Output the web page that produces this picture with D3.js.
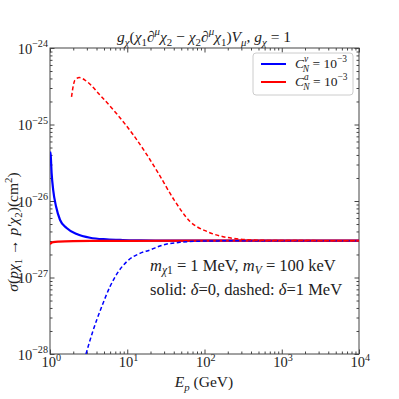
<!DOCTYPE html>
<html>
<head>
<meta charset="utf-8">
<script src="https://cdn.jsdelivr.net/npm/d3@7"></script>
<style>
  body { margin: 0; background: #fff; }
  svg text { font-family: "Liberation Serif", "DejaVu Serif", serif; fill: #222; }
</style>
</head>
<body>
<div id="chart"></div>
<script>
/* DATA */
const xMajor = [1, 10, 100, 1000, 10000];
const yMajor = [1e-28, 1e-27, 1e-26, 1e-25, 1e-24];
const xTickExp = ["0", "1", "2", "3", "4"];
const yTickExp = ["\u221228", "\u221227", "\u221226", "\u221225", "\u221224"];

// C_N^v, delta = 0 (blue solid)
const blueSolidE = [1.0, 1.02, 1.05, 1.1, 1.2, 1.35, 1.64, 2.22, 3.3, 5.4, 8.8, 15, 30, 100, 1000, 10000];
const blueSolidS = [4.4e-26, 4.0e-26, 2.3e-26, 1.39e-26, 8.4e-27, 5.65e-27, 4.43e-27, 3.71e-27, 3.31e-27, 3.15e-27, 3.09e-27, 3.06e-27, 3.04e-27, 3.03e-27, 3.03e-27, 3.03e-27];
// C_N^v, delta = 1 MeV (blue dashed)
const blueDashE = [2.92, 3.63, 4.67, 5.98, 7.66, 9.84, 14.6, 19.7, 29, 48, 107, 300, 10000];
const blueDashS = [1e-28, 2.06e-28, 4.15e-28, 7.6e-28, 1.19e-27, 1.61e-27, 2.07e-27, 2.29e-27, 2.66e-27, 2.88e-27, 3.0e-27, 3.02e-27, 3.03e-27];
// C_N^a, delta = 0 (red solid)
const redSolidE = [1.0, 1.03, 1.1, 1.3, 2, 5, 10, 100, 10000];
const redSolidS = [2.72e-27, 2.82e-27, 2.9e-27, 2.95e-27, 2.99e-27, 3.01e-27, 3.02e-27, 3.03e-27, 3.03e-27];
// C_N^a, delta = 1 MeV (red dashed)
const redDashE = [1.9, 2.0, 2.1, 2.4, 3.0, 4.4, 7.3, 12, 18, 25, 40, 65, 107, 174, 288, 474, 1000, 10000];
const redDashS = [2.3e-25, 3.2e-25, 3.8e-25, 4.1e-25, 3.65e-25, 2.45e-25, 1.38e-25, 7.3e-26, 4.0e-26, 2.35e-26, 1.05e-26, 5.4e-27, 4.0e-27, 3.42e-27, 3.18e-27, 3.08e-27, 3.04e-27, 3.03e-27];

const series = [
  { E: blueSolidE, S: blueSolidS, color: "#0000ff", dash: null },
  { E: redSolidE, S: redSolidS, color: "#ff0000", dash: null },
  { E: blueDashE, S: blueDashS, color: "#0000ff", dash: "4,2.5" },
  { E: redDashE, S: redDashS, color: "#ff0000", dash: "4,2.5" }
];

/* LAYOUT */
const width = 399, height = 399,
  margin = { top: 48, right: 40, bottom: 45, left: 50 };

const svg = d3.select("#chart").append("svg")
  .attr("width", width).attr("height", height);

const xScale = d3.scaleLog().domain([1, 1e4]).range([margin.left, width - margin.right]);
const yScale = d3.scaleLog().domain([1e-28, 1e-24]).range([height - margin.bottom, margin.top]);

// minor ticks 2..9 per decade
function minors(lo, hi) {
  const out = [];
  for (let e = lo; e < hi; e++) for (let k = 2; k <= 9; k++) out.push(k * Math.pow(10, e));
  return out;
}
const xMinor = minors(0, 4);
const yMinor = minors(-28, -24);

// math text helper: parts = [{t, i (italic), s ('sub'|'sup')}]
function mathText(sel, parts, size, subShift = 0.28) {
  let shift = 0;
  parts.forEach(p => {
    const target = p.s === "sub" ? size * subShift : p.s === "sup" ? -size * 0.42 : 0;
    const ts = sel.append("tspan")
      .attr("dy", target - shift)
      .attr("font-size", p.s ? size * 0.7 : size)
      .attr("font-style", p.i ? "italic" : "normal")
      .text(p.t);
    if (p.dx) ts.attr("dx", p.dx);
    shift = target;
  });
}

/* AXES */
const axisColor = "#444";
function drawAxis(axisFn, transform, ticks, size) {
  const g = svg.append("g")
    .attr("transform", transform)
    .call(axisFn.tickValues(ticks).tickSize(-size).tickSizeOuter(0).tickFormat(""));
  g.select(".domain").remove();
  g.selectAll("line").attr("stroke", axisColor).attr("stroke-width", 1);
  return g;
}
const bottomY = height - margin.bottom, rightX = width - margin.right;
const gx = drawAxis(d3.axisBottom(xScale), `translate(0,${bottomY})`, xMajor, 4.5);
drawAxis(d3.axisBottom(xScale), `translate(0,${bottomY})`, xMinor, 2.5);
drawAxis(d3.axisTop(xScale), `translate(0,${margin.top})`, xMajor, 4.5);
drawAxis(d3.axisTop(xScale), `translate(0,${margin.top})`, xMinor, 2.5);
const gy = drawAxis(d3.axisLeft(yScale), `translate(${margin.left},0)`, yMajor, 4.5);
drawAxis(d3.axisLeft(yScale), `translate(${margin.left},0)`, yMinor, 2.5);
drawAxis(d3.axisRight(yScale), `translate(${rightX},0)`, yMajor, 4.5);
drawAxis(d3.axisRight(yScale), `translate(${rightX},0)`, yMinor, 2.5);

svg.append("rect")
  .attr("x", margin.left).attr("y", margin.top)
  .attr("width", rightX - margin.left).attr("height", bottomY - margin.top)
  .attr("fill", "none").attr("stroke", axisColor).attr("stroke-width", 1);

// tick labels
gx.selectAll(".tick").each(function(d, i) {
  const t = d3.select(this).append("text")
    .attr("x", -9).attr("y", 13).attr("text-anchor", "start").attr("fill", "#222");
  mathText(t, [{ t: "10" }, { t: xTickExp[i], s: "sup" }], 14.5);
});
gy.selectAll(".tick").each(function(d, i) {
  const t = d3.select(this).append("text")
    .attr("x", -2).attr("y", 5).attr("text-anchor", "end").attr("fill", "#222");
  mathText(t, [{ t: "10" }, { t: yTickExp[i], s: "sup" }], 14.5);
});

/* CURVES */
svg.append("clipPath").attr("id", "plot-clip")
  .append("rect").attr("x", margin.left).attr("y", margin.top)
  .attr("width", rightX - margin.left).attr("height", bottomY - margin.top);

const line = d3.line()
  .x(d => xScale(d[0]))
  .y(d => yScale(d[1]))
  .curve(d3.curveMonotoneX);

svg.append("g").attr("clip-path", "url(#plot-clip)")
  .selectAll("path.curve")
  .data(series)
  .join("path")
  .attr("class", "curve")
  .attr("fill", "none")
  .attr("stroke", d => d.color)
  .attr("stroke-width", d => d.dash ? 1.5 : 2.2)
  .attr("stroke-dasharray", d => d.dash)
  .attr("d", d => line(d.E.map((e, i) => [e, d.S[i]])));

/* LEGEND */
const lg = svg.append("g").attr("transform", "translate(253,53)");
lg.append("rect").attr("width", 100).attr("height", 42).attr("rx", 3)
  .attr("fill", "#fff").attr("fill-opacity", 0.8).attr("stroke", "#ccc");
[{ c: "#0000ff", sup: "v" }, { c: "#ff0000", sup: "a" }].forEach((e, i) => {
  const yy = 11 + i * 18;
  lg.append("line").attr("x1", 8).attr("x2", 33).attr("y1", yy).attr("y2", yy)
    .attr("stroke", e.c).attr("stroke-width", 2);
  const t = lg.append("text").attr("x", 42).attr("y", yy + 4);
  mathText(t, [
    { t: "C", i: true }, { t: e.sup, i: true, s: "sup" },
    { t: "N", i: true, s: "sub", dx: -5.5 }, { t: " = 10" }, { t: "\u22123", s: "sup" }
  ], 13.5);
});

/* TEXTS */
const title = svg.append("text").attr("x", 204).attr("y", 42).attr("text-anchor", "middle");
mathText(title, [
  { t: "g", i: true }, { t: "\u03c7", i: true, s: "sub" },
  { t: "(" }, { t: "\u03c7", i: true }, { t: "1", s: "sub" },
  { t: "\u2202" }, { t: "\u03bc", i: true, s: "sup" },
  { t: "\u03c7", i: true }, { t: "2", s: "sub" },
  { t: " \u2212 " }, { t: "\u03c7", i: true }, { t: "2", s: "sub" },
  { t: "\u2202" }, { t: "\u03bc", i: true, s: "sup" },
  { t: "\u03c7", i: true }, { t: "1", s: "sub" },
  { t: ")" }, { t: "V", i: true }, { t: "\u03bc", i: true, s: "sub" },
  { t: ", " }, { t: "g", i: true }, { t: "\u03c7", i: true, s: "sub" }, { t: " = 1" }
], 15.5);

const xl = svg.append("text").attr("x", 204).attr("y", 387).attr("text-anchor", "middle");
mathText(xl, [{ t: "E", i: true }, { t: "p", i: true, s: "sub" }, { t: " (GeV)" }], 15.5);

const yl = svg.append("text").attr("transform", "translate(18,232) rotate(-90)").attr("text-anchor", "middle");
mathText(yl, [
  { t: "\u03c3", i: true }, { t: "(" }, { t: "p\u03c7", i: true }, { t: "1", s: "sub" },
  { t: " \u2192 " }, { t: "p\u2032\u03c7", i: true }, { t: "2", s: "sub" }, { t: ")(cm" },
  { t: "2", s: "sup" }, { t: ")" }
], 15.5);

const a1 = svg.append("text").attr("x", 150).attr("y", 271);
mathText(a1, [
  { t: "m", i: true }, { t: "\u03c7", i: true, s: "sub" }, { t: "1", s: "sub" },
  { t: " = 1 MeV, " }, { t: "m", i: true }, { t: "V", i: true, s: "sub" }, { t: " = 100 keV" }
], 16.5, 0.2);
const a2 = svg.append("text").attr("x", 150).attr("y", 295);
mathText(a2, [
  { t: "solid: " }, { t: "\u03b4", i: true }, { t: "=0, dashed: " }, { t: "\u03b4", i: true }, { t: "=1 MeV" }
], 16.5);
</script>
</body>
</html>
